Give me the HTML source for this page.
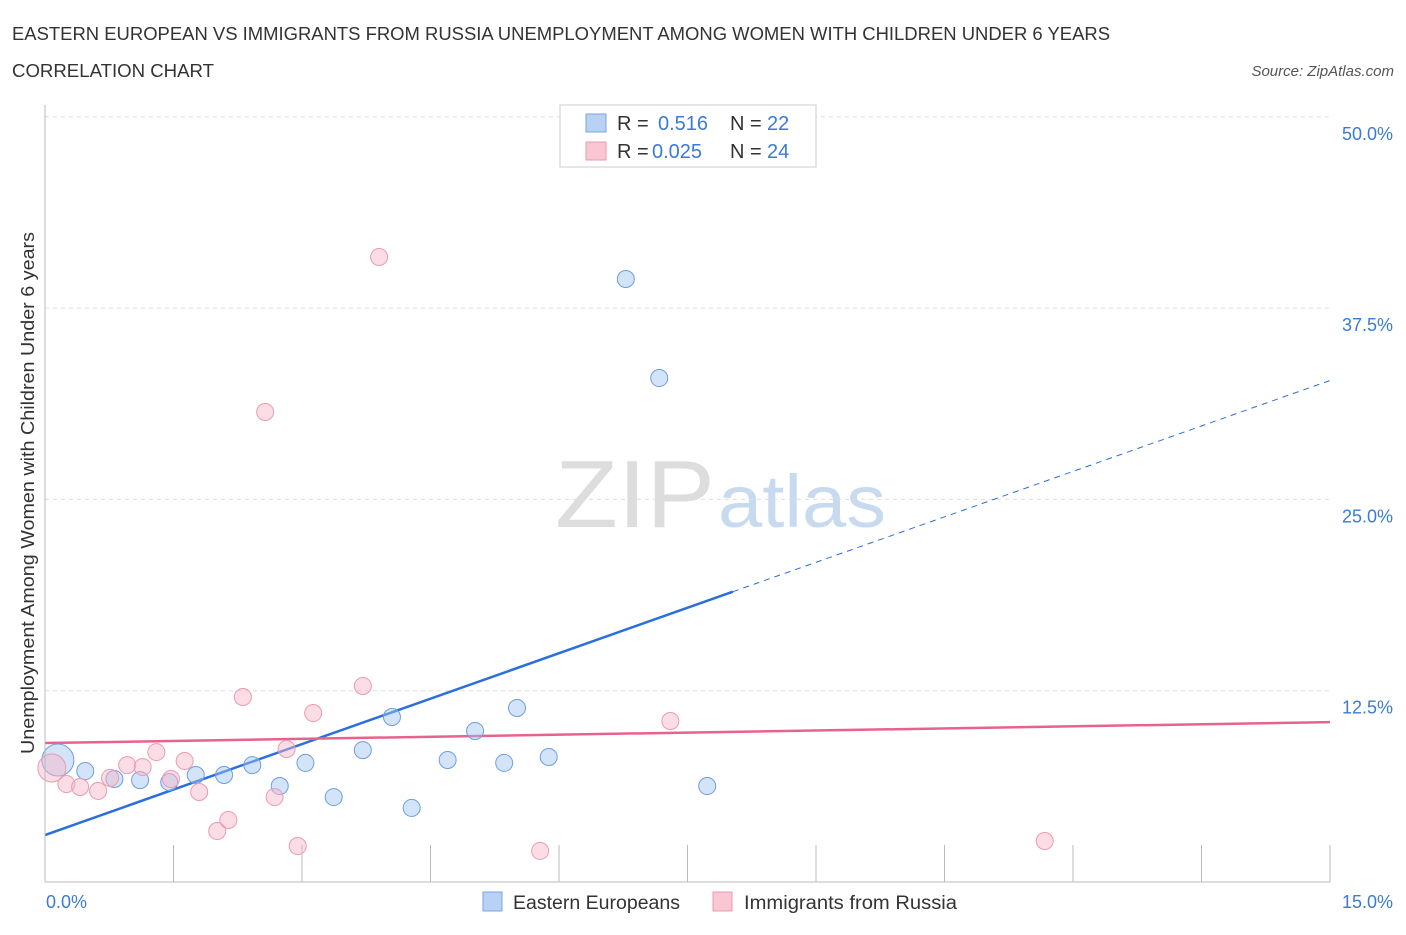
<!DOCTYPE html>
<html><head><meta charset="utf-8"><style>
body{margin:0;background:#fff;font-family:"Liberation Sans",sans-serif;}
svg text{font-family:"Liberation Sans",sans-serif;}
</style></head><body>
<svg width="1406" height="930" xmlns="http://www.w3.org/2000/svg">
<text x="12" y="40" font-size="18" fill="#333" textLength="1098" lengthAdjust="spacingAndGlyphs">EASTERN EUROPEAN VS IMMIGRANTS FROM RUSSIA UNEMPLOYMENT AMONG WOMEN WITH CHILDREN UNDER 6 YEARS</text>
<text x="12" y="77" font-size="18" fill="#333" textLength="202" lengthAdjust="spacingAndGlyphs">CORRELATION CHART</text>
<text x="1394" y="76" font-size="15" fill="#555" font-style="italic" text-anchor="end">Source: ZipAtlas.com</text>
<text x="555" y="527" font-size="96" fill="#ddd" font-family="Liberation Serif" textLength="160" lengthAdjust="spacingAndGlyphs">ZIP</text>
<text x="718" y="527" font-size="74" fill="#c8daf0" textLength="168" lengthAdjust="spacingAndGlyphs">atlas</text>
<text x="34" y="493" font-size="18" fill="#333" text-anchor="middle" textLength="522" lengthAdjust="spacingAndGlyphs" transform="rotate(-90 34 493)">Unemployment Among Women with Children Under 6 years</text>
<g id="grid"></g><g id="ticks"></g><g id="lines"></g><g id="pts"></g>
<line x1="45" y1="105" x2="45" y2="882" stroke="#bbb"/>
<line x1="45" y1="882" x2="1330" y2="882" stroke="#bbb"/>
<text x="46" y="908" font-size="18" fill="#3a7bd5">0.0%</text>
<text x="1393" y="908" font-size="18" fill="#3a7bd5" text-anchor="end">15.0%</text>
<g>
<rect x="560" y="105" width="256" height="62" fill="#fff" stroke="#ccc"/>
<rect x="586" y="114" width="20" height="18" fill="#b7d2f5" stroke="#7aa6e0"/>
<rect x="586" y="142" width="20" height="18" fill="#f9c6d4" stroke="#eb9ab2"/>
<text x="617" y="130" font-size="20" fill="#333">R =</text>
<text x="658" y="130" font-size="20" fill="#3a7bd5">0.516</text>
<text x="730" y="130" font-size="20" fill="#333">N =</text>
<text x="767" y="130" font-size="20" fill="#3a7bd5">22</text>
<text x="617" y="158" font-size="20" fill="#333">R =</text>
<text x="652" y="158" font-size="20" fill="#3a7bd5">0.025</text>
<text x="730" y="158" font-size="20" fill="#333">N =</text>
<text x="767" y="158" font-size="20" fill="#3a7bd5">24</text>
</g>
<g>
<rect x="483" y="892" width="19" height="19" fill="#b7d2f5" stroke="#7aa6e0"/>
<text x="513" y="909" font-size="19" fill="#333" textLength="167" lengthAdjust="spacingAndGlyphs">Eastern Europeans</text>
<rect x="713" y="892" width="19" height="19" fill="#f9c6d4" stroke="#eb9ab2"/>
<text x="744" y="909" font-size="19" fill="#333" textLength="213" lengthAdjust="spacingAndGlyphs">Immigrants from Russia</text>
</g>
</svg>
<script>
const blueX=[0.15,0.47,0.81,1.11,1.45,1.76,2.09,2.42,2.74,3.04,3.37,3.71,4.05,4.28,4.70,5.02,5.36,5.51,5.88,6.78,7.17,7.73];
const blueY=[7.97,7.25,6.73,6.66,6.53,6.99,6.99,7.64,6.27,7.78,5.55,8.62,10.78,4.84,7.97,9.87,7.78,11.37,8.17,39.40,32.93,6.27];
const pinkX=[0.08,0.25,0.41,0.62,0.76,0.96,1.14,1.30,1.47,1.63,1.80,2.01,2.14,2.31,2.57,2.68,2.82,2.95,3.13,3.71,3.90,5.78,7.30,11.67];
const pinkY=[7.45,6.40,6.21,5.95,6.80,7.64,7.51,8.49,6.73,7.91,5.88,3.33,4.05,12.09,30.71,5.55,8.69,2.35,11.04,12.81,40.84,2.03,10.52,2.68];
const yTicks=[12.5,25,37.5,50];
const yTickLabels=["12.5%","25.0%","37.5%","50.0%"];
const blueFit=[3.07,1.98]; const pinkFit=[9.08,0.091];
const NS="http://www.w3.org/2000/svg";
const sx=v=>45+v/15*1285, sy=v=>882-v/12.5*191.3;
function mk(t,a,p){const e=document.createElementNS(NS,t);for(const k in a)e.setAttribute(k,a[k]);document.getElementById(p).appendChild(e);return e;}
yTicks.forEach((t,i)=>{
 const g=mk('line',{x1:45,x2:1330,y1:sy(t),y2:sy(t),stroke:'#ddd','stroke-dasharray':'4,4'},'grid');
 
 
 const l=mk('text',{x:1393,y:sy(t)+23,'font-size':18,fill:'#3a7bd5','text-anchor':'end'},'grid');
 l.textContent=yTickLabels[i];
 
 
});
for(let i=1;i<=10;i++){
 const t=mk('line',{x1:sx(i*1.5),x2:sx(i*1.5),y1:845,y2:882,stroke:'#bbb'},'ticks');
 
 
}
function fit(f,x){return f[0]+f[1]*x;}
let l1=mk('line',{x1:sx(0),y1:sy(fit(blueFit,0)),x2:sx(8.03),y2:sy(fit(blueFit,8.03)),stroke:'#2a6fdb','stroke-width':2.5},'lines');


let l2=mk('line',{x1:sx(8.03),y1:sy(fit(blueFit,8.03)),x2:sx(15),y2:sy(fit(blueFit,15)),stroke:'#2a6fdb','stroke-width':1,'stroke-dasharray':'6,5'},'lines');


let l3=mk('line',{x1:sx(0),y1:sy(fit(pinkFit,0)),x2:sx(15),y2:sy(fit(pinkFit,15)),stroke:'#e8628e','stroke-width':2.5},'lines');


blueX.forEach((x,i)=>{
 const c=mk('circle',{cx:sx(x),cy:sy(blueY[i]),r:i==0?16:8.5,fill:'rgba(160,196,240,0.45)',stroke:'#6d9edf','stroke-width':1},'pts');
 
 
});
pinkX.forEach((x,i)=>{
 const c=mk('circle',{cx:sx(x),cy:sy(pinkY[i]),r:i==0?14:8.5,fill:'rgba(248,180,200,0.45)',stroke:'#eb9ab2','stroke-width':1},'pts');
 
 
});
</script>
</body></html>
